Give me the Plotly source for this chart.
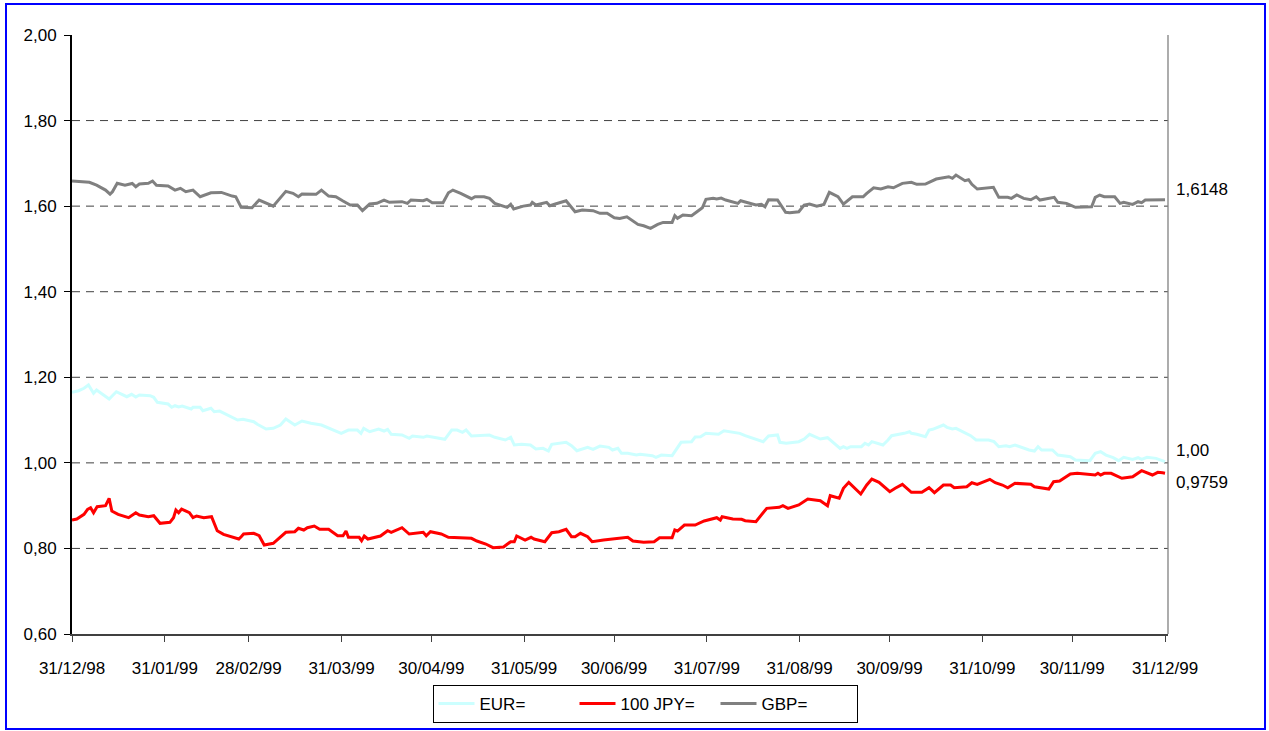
import pandas as pd
import plotly.graph_objects as go

base_date = "1998-12-31"

# ---- data (days since 31/12/98, values) ----
gbp_days = [0, 5.8, 8.2, 11.2, 12.7, 13.5, 15.1, 17.7, 20.1, 21.3, 22.5, 25.5, 26.9, 28.2, 32.1, 34.4, 36.2, 38.0,
            40.4, 42.8, 46.4, 49.9, 53.5, 54.7, 56.5, 60.1, 62.5, 67.2, 71.4, 73.8, 75.6, 76.8, 81.5, 83.3, 85.7,
            88.1, 90.5, 92.9, 95.3, 97.0, 99.4, 101.8, 104.2, 106.0, 110.2, 112.0, 113.2, 117.3, 118.5, 120.3,
            123.9, 125.7, 127.2, 129.8, 133.4, 134.6, 137.6, 139.4, 141.2, 145.3, 146.5, 147.5, 150.7, 153.1,
            153.7, 154.9, 158.5, 159.6, 161.4, 165.0, 168.0, 170.4, 174.0, 176.3, 178.7, 181.1, 182.9, 185.3,
            189.0, 190.9, 193.2, 195.6, 197.4, 200.4, 201.3, 202.2, 204.0, 206.9, 208.7, 210.5, 211.7, 214.1,
            215.3, 216.8, 218.3, 222.4, 223.3, 228.4, 230.2, 231.4, 232.6, 235.6, 238.3, 239.7, 242.7, 244.5,
            246.3, 248.7, 251.1, 252.9, 255.8, 257.6, 260.6, 264.2, 265.4, 267.7, 270.1, 272.5, 274.3, 277.3,
            280.3, 282.1, 285.0, 286.8, 288.6, 292.8, 294.0, 295.2, 296.7, 298.2, 299.4, 300.5, 302.3, 305.3,
            307.7, 309.5, 312.5, 313.7, 315.5, 317.8, 320.2, 322.0, 323.2, 328.0, 329.2, 332.1, 335.1, 340.5,
            341.7, 343.2, 344.7, 348.2, 350.0, 351.2, 354.2, 356.0, 357.2, 358.4, 362.0, 365]
gbp_vals = [1.659, 1.6556, 1.649, 1.6376, 1.628, 1.6337, 1.6533, 1.649, 1.653, 1.6454, 1.6516, 1.6533, 1.6587,
            1.6486, 1.647, 1.6376, 1.6416, 1.6337, 1.6376, 1.622, 1.6313, 1.632, 1.6236, 1.622, 1.5972, 1.5963,
            1.6143, 1.600, 1.6346, 1.630, 1.622, 1.6283, 1.6276, 1.6376, 1.6236, 1.622, 1.612, 1.6026, 1.6026,
            1.5893, 1.6049, 1.6065, 1.6143, 1.6089, 1.6104, 1.6065, 1.6143, 1.6127, 1.616, 1.6081, 1.6081,
            1.6313, 1.6376, 1.630, 1.6174, 1.622, 1.622, 1.6182, 1.6065, 1.5972, 1.6042, 1.5932, 1.600, 1.6026,
            1.6089, 1.6026, 1.6089, 1.601, 1.6049, 1.6127, 1.5869, 1.5909, 1.5893, 1.5832, 1.5832, 1.5729,
            1.5714, 1.5752, 1.5574, 1.5542, 1.5481, 1.5574, 1.562, 1.562, 1.5776, 1.5714, 1.5792, 1.5776,
            1.5869, 1.5963, 1.616, 1.6182, 1.6166, 1.6189, 1.6143, 1.6065, 1.6127, 1.6026, 1.6042, 1.5986,
            1.615, 1.6143, 1.5855, 1.5846, 1.5869, 1.6026, 1.6049, 1.600, 1.6042, 1.6322, 1.622, 1.6049, 1.622,
            1.622, 1.630, 1.643, 1.640, 1.6454, 1.643, 1.6533, 1.6556, 1.651, 1.6516, 1.6571, 1.6633, 1.6688,
            1.665, 1.6727, 1.6664, 1.6594, 1.6618, 1.651, 1.640, 1.6416, 1.644, 1.6205, 1.6205, 1.6182, 1.626,
            1.6182, 1.615, 1.622, 1.6143, 1.6205, 1.6089, 1.6065, 1.5972, 1.5986, 1.6205, 1.626, 1.622, 1.622,
            1.6065, 1.6089, 1.6042, 1.6104, 1.6081, 1.6143, 1.615, 1.6148]

eur_days = [0, 2.2, 4.0, 5.5, 7.2, 8.2, 12.4, 14.8, 18.3, 19.9, 21.3, 22.5, 26.1, 27.3, 28.5, 32.1, 33.3, 34.4,
            35.6, 36.8, 39.8, 40.4, 42.8, 43.7, 46.4, 47.5, 49.3, 52.3, 55.3, 57.1, 60.7, 61.9, 64.8, 67.2, 69.6,
            71.4, 74.4, 76.8, 79.8, 83.3, 86.9, 89.9, 92.3, 95.3, 96.5, 97.4, 99.4, 102.4, 104.2, 105.4, 106.6,
            110.2, 112.6, 113.7, 117.3, 118.5, 124.5, 126.8, 128.6, 130.4, 131.6, 133.4, 139.4, 141.2, 144.7,
            146.5, 147.7, 150.1, 153.1, 154.9, 157.3, 159.1, 160.2, 165.0, 166.8, 168.6, 172.2, 174.0, 176.3,
            179.3, 180.5, 182.3, 183.5, 185.6, 188.5, 189.7, 193.8, 195.0, 196.8, 200.4, 203.4, 206.9, 208.1,
            209.9, 211.7, 215.9, 217.7, 223.0, 224.8, 228.4, 230.8, 232.6, 235.6, 236.4, 238.5, 242.7, 244.5,
            246.3, 249.9, 252.3, 254.7, 256.5, 257.6, 258.8, 260.0, 263.6, 264.8, 266.0, 267.1, 270.8, 272.5,
            273.7, 277.9, 279.7, 280.3, 282.1, 285.0, 286.2, 287.4, 291.0, 292.2, 294.0, 295.2, 297.6, 300.1,
            301.9, 306.1, 307.9, 309.5, 311.9, 313.1, 314.9, 319.6, 321.4, 322.6, 323.8, 327.4, 329.2, 333.4,
            335.1, 339.9, 341.7, 343.5, 345.3, 347.7, 349.5, 351.2, 354.2, 356.0, 357.2, 359.0, 362.0, 364.0, 365]
eur_vals = [1.1649, 1.1686, 1.1742, 1.1819, 1.1625, 1.1702, 1.1492, 1.1663, 1.1546, 1.1602, 1.1539, 1.1585,
            1.1569, 1.1532, 1.1415, 1.1375, 1.1298, 1.1335, 1.1305, 1.1328, 1.1258, 1.1298, 1.1298, 1.1219,
            1.1275, 1.1195, 1.1211, 1.1102, 1.1001, 1.1017, 1.0962, 1.0901, 1.0791, 1.0807, 1.0884, 1.1024,
            1.0884, 1.0978, 1.0924, 1.0884, 1.0784, 1.0690, 1.0767, 1.0767, 1.0690, 1.0807, 1.0728, 1.0791,
            1.0744, 1.0784, 1.0667, 1.0651, 1.0573, 1.0627, 1.0597, 1.0627, 1.0550, 1.0767, 1.0767, 1.0713,
            1.0767, 1.0627, 1.0651, 1.0597, 1.0534, 1.0597, 1.0417, 1.0433, 1.0417, 1.0323, 1.0339, 1.0277,
            1.0433, 1.048, 1.0401, 1.0284, 1.0363, 1.0316, 1.0393, 1.0363, 1.030, 1.0339, 1.0222, 1.0222,
            1.0183, 1.0199, 1.0167, 1.0129, 1.0183, 1.0167, 1.048, 1.0495, 1.0604, 1.0612, 1.069, 1.0667,
            1.0751, 1.069, 1.0635, 1.0557, 1.0495, 1.0627, 1.0651, 1.048, 1.0457, 1.0495, 1.0557, 1.0667,
            1.0557, 1.0588, 1.0457, 1.0339, 1.0378, 1.0339, 1.0378, 1.0378, 1.0457, 1.0417, 1.0495, 1.0417,
            1.0534, 1.0635, 1.069, 1.0728, 1.069, 1.0667, 1.0612, 1.0767, 1.0784, 1.0884, 1.083, 1.0791,
            1.0807, 1.0713, 1.0635, 1.0534, 1.0534, 1.0495, 1.0378, 1.0401, 1.0378, 1.0417, 1.030, 1.0277,
            1.0378, 1.030, 1.030, 1.0183, 1.0144, 1.0066, 1.0051, 1.0222, 1.0261, 1.0183, 1.012, 1.0051,
            1.0129, 1.0082, 1.012, 1.0082, 1.0129, 1.0105, 1.0043, 1.003]

jpy_days = [0, 1.6, 4.0, 5.2, 6.2, 7.2, 8.4, 11.2, 12.4, 13.3, 15.4, 18.9, 21.3, 22.5, 25.5, 27.3, 29.4, 32.7,
            33.9, 34.7, 35.6, 36.6, 39.2, 40.4, 41.6, 44.0, 46.6, 48.5, 50.6, 54.1, 55.7, 56.5, 57.3, 60.7, 62.5,
            64.2, 67.2, 71.4, 74.4, 75.6, 77.4, 78.6, 80.9, 82.7, 85.7, 88.7, 90.5, 91.5, 92.3, 95.9, 96.7, 97.6,
            98.8, 103.0, 105.4, 106.6, 110.2, 112.6, 117.3, 118.3, 119.7, 123.3, 125.7, 133.4, 135.2, 138.2,
            140.6, 144.1, 146.5, 147.7, 148.5, 151.3, 153.3, 154.3, 157.9, 160.2, 162.6, 165.0, 166.8, 168.0,
            169.8, 172.2, 173.7, 177.5, 181.7, 185.6, 187.3, 190.9, 194.4, 196.2, 200.4, 201.3, 202.2, 204.5,
            208.1, 211.1, 215.3, 216.5, 217.1, 220.7, 223.6, 224.8, 228.4, 230.2, 232.0, 236.2, 237.4, 239.1,
            242.7, 245.7, 249.9, 252.3, 253.2, 256.2, 257.6, 259.4, 260.6, 263.4, 265.4, 267.1, 269.5, 273.1,
            274.9, 277.3, 280.3, 283.8, 286.2, 288.0, 291.0, 293.4, 294.6, 298.8, 300.5, 302.3, 306.5, 308.3,
            310.7, 312.5, 314.9, 320.2, 321.4, 326.2, 327.8, 329.8, 333.4, 335.7, 341.7, 342.6, 343.5, 344.7,
            347.0, 350.6, 354.2, 357.2, 360.8, 362.6, 364.2, 365]
jpy_vals = [0.8664, 0.8688, 0.8797, 0.8914, 0.8952, 0.8835, 0.8976, 0.8999, 0.9172, 0.8875, 0.8797, 0.8718,
            0.8835, 0.8781, 0.8741, 0.8765, 0.8587, 0.861, 0.8718, 0.8898, 0.8835, 0.8921, 0.8835, 0.8718,
            0.8758, 0.8718, 0.8741, 0.8414, 0.833, 0.826, 0.822, 0.8274, 0.8337, 0.8353, 0.8297, 0.808, 0.812,
            0.8377, 0.8391, 0.847, 0.843, 0.8484, 0.8524, 0.8447, 0.8447, 0.8297, 0.8297, 0.8407, 0.826, 0.826,
            0.8181, 0.829, 0.822, 0.829, 0.8414, 0.8377, 0.8484, 0.8337, 0.8377, 0.8297, 0.8391, 0.8337, 0.826,
            0.8236, 0.8173, 0.8103, 0.8017, 0.8033, 0.8157, 0.8157, 0.829, 0.8197, 0.826, 0.822, 0.8157, 0.8367,
            0.8391, 0.8447, 0.8274, 0.8274, 0.8353, 0.8274, 0.8157, 0.8197, 0.8236, 0.826, 0.8173, 0.8143,
            0.8157, 0.8251, 0.8251, 0.843, 0.8407, 0.8547, 0.8547, 0.8641, 0.8718, 0.8664, 0.8741, 0.8688,
            0.868, 0.8648, 0.8624, 0.8781, 0.8937, 0.8961, 0.8999, 0.8937, 0.9015, 0.9155, 0.9115, 0.8999,
            0.9232, 0.9172, 0.9405, 0.9545, 0.9466, 0.9272, 0.9482, 0.9622, 0.9545, 0.9326, 0.9405, 0.9498,
            0.9311, 0.9311, 0.9419, 0.9302, 0.9482, 0.9482, 0.9419, 0.9442, 0.9536, 0.9498, 0.9615, 0.9536,
            0.9482, 0.9419, 0.9522, 0.9498, 0.9442, 0.9389, 0.956, 0.9576, 0.9739, 0.9756, 0.9716, 0.9756,
            0.9716, 0.9756, 0.9756, 0.9639, 0.9676, 0.9817, 0.9716, 0.9779, 0.977, 0.9759]

series_names = ["EUR=", "100 JPY=", "GBP="]
end_labels = ["1,00", "0,9759", "1,6148"]
end_label_y = [1.03, 0.953, 1.64]

tick_dates = ["1998-12-31", "1999-01-31", "1999-02-28", "1999-03-31", "1999-04-30", "1999-05-31",
              "1999-06-30", "1999-07-31", "1999-08-31", "1999-09-30", "1999-10-31", "1999-11-30", "1999-12-31"]
tick_labels = ["31/12/98", "31/01/99", "28/02/99", "31/03/99", "30/04/99", "31/05/99", "30/06/99",
               "31/07/99", "31/08/99", "30/09/99", "31/10/99", "30/11/99", "31/12/99"]
y_ticks = [0.6, 0.8, 1.0, 1.2, 1.4, 1.6, 1.8, 2.0]


def to_dates(days):
    return pd.Timestamp(base_date) + pd.to_timedelta(days, unit="D")


FONT = "Liberation Sans, Arial, sans-serif"
FS = 17
fig = go.Figure()
colors = ["#CCFFFF", "#FF0000", "#808080"]
for name, days, vals, col in zip(series_names, [eur_days, jpy_days, gbp_days],
                                 [eur_vals, jpy_vals, gbp_vals], colors):
    fig.add_trace(go.Scatter(x=to_dates(days), y=vals, mode="lines", name=name,
                             line=dict(color=col, width=3)))

# dashed gridlines (no line at the top)
shapes = []
for v in y_ticks[1:-1]:
    shapes.append(dict(type="line", xref="paper", yref="y", x0=0, x1=1, y0=v, y1=v,
                       line=dict(color="#404040", width=1, dash="8px,6px"), layer="below"))
# right border of plot area
shapes.append(dict(type="line", xref="paper", yref="paper", x0=1, x1=1, y0=0, y1=1,
                   line=dict(color="#808080", width=1.3)))
# blue frame around the whole chart
shapes.append(dict(type="rect", xref="paper", yref="paper",
                   x0=(6 - 72) / 1096, x1=(1265 - 72) / 1096,
                   y0=(634 - 729) / 599, y1=(634 - 4) / 599,
                   line=dict(color="#0000FF", width=2), fillcolor="rgba(0,0,0,0)"))

annotations = []
for txt, yv in zip(end_labels, end_label_y):
    annotations.append(dict(text=txt, xref="paper", yref="y", x=1, y=yv, xshift=6,
                            xanchor="left", yanchor="middle", showarrow=False,
                            font=dict(family=FONT, size=FS, color="#000000")))

fig.update_layout(
    width=1269, height=731,
    margin=dict(l=72, r=101, t=35, b=97, autoexpand=False),
    paper_bgcolor="white", plot_bgcolor="white",
    separators=", ",
    font=dict(family=FONT, size=FS, color="#000000"),
    shapes=shapes, annotations=annotations,
    showlegend=True,
    legend=dict(orientation="h", x=(645 - 72) / 1096, y=(634 - 685) / 599,
                xanchor="center", yanchor="top",
                bordercolor="#000000", borderwidth=1, bgcolor="white",
                font=dict(family=FONT, size=FS), itemwidth=36,
                entrywidth=90, entrywidthmode="pixels",
                tracegroupgap=0),
)
fig.update_xaxes(type="date", range=["1998-12-31", "2000-01-01"],
                 tickmode="array", tickvals=tick_dates, ticktext=tick_labels,
                 showgrid=False, zeroline=False,
                 showline=True, linecolor="#404040", linewidth=2,
                 ticks="outside", ticklen=6, tickcolor="#404040", tickwidth=1,
                 ticklabelstandoff=12,
                 tickfont=dict(family=FONT, size=FS, color="#000000"))
fig.update_yaxes(range=[0.6, 2.0], tickmode="array", tickvals=y_ticks,
                 tickformat=".2f", showgrid=False, zeroline=False,
                 showline=True, linecolor="#000000", linewidth=2,
                 ticks="outside", ticklen=6, tickcolor="#000000", tickwidth=1,
                 ticklabelstandoff=4,
                 tickfont=dict(family=FONT, size=FS, color="#000000"))

fig.write_html("out.html", config={"displayModeBar": False},
               post_script="document.body.style.margin='0';document.body.style.overflow='hidden';")
